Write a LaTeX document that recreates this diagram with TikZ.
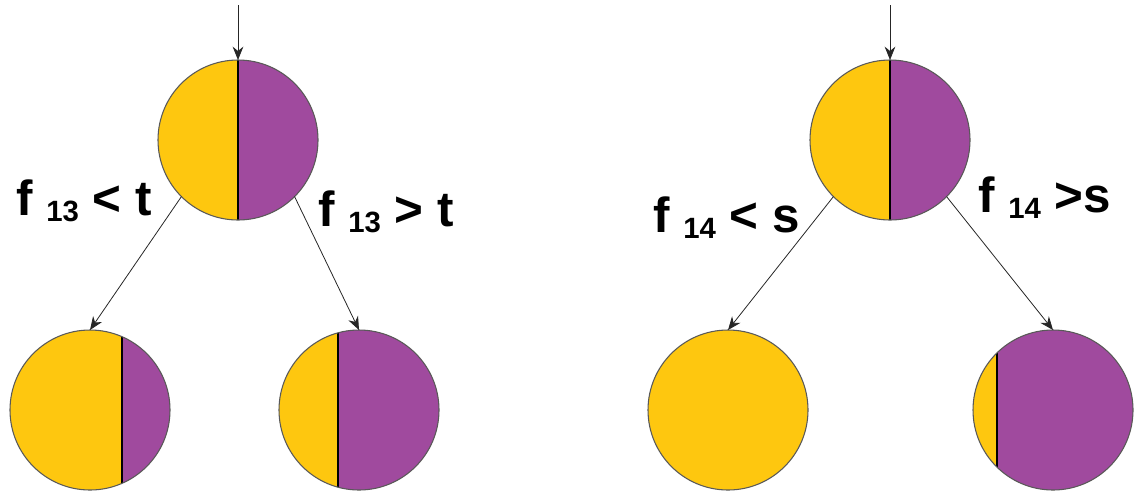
\documentclass[tikz,border=0pt]{standalone}
\usepackage{fontspec}
\setmainfont{Liberation Sans}
\usetikzlibrary{arrows.meta}
\definecolor{ylw}{RGB}{254,199,15}
\definecolor{pur}{RGB}{160,74,158}
\tikzset{
  ball/.style={circle, minimum size=120pt, inner sep=0pt, outer sep=0pt,
    draw=black!65, line width=0.8pt, fill=ylw},
  split/.style={path picture={
    \fill[pur] ([xshift=#1]path picture bounding box.north) rectangle (path picture bounding box.south east);
    \draw[black, line width=0.8pt] ([xshift=#1]path picture bounding box.north) -- ([xshift=#1]path picture bounding box.south);}},
  conn/.style={draw=black!85, line width=0.6pt, -{Stealth[length=10pt,width=8pt]}},
  lab/.style={anchor=base west, inner sep=0pt, font=\bfseries\fontsize{37}{37}\selectfont},
}
\newcommand{\sbx}[1]{\raisebox{-4.5pt}{\fontsize{22}{22}\selectfont #1}}
\begin{document}
\begin{tikzpicture}[x=0.75pt,y=-0.75pt]
\useasboundingbox (0,0) rectangle (1134,494);
% left tree
\coordinate (inA) at (238,5);
\node[ball, split=0pt] (rA) at (238,140) {};
\node[ball, split=24pt] (lA) at (90,410) {};
\node[ball, split=-15.75pt] (rrA) at (359,410) {};
\draw[conn] (inA) -- (rA.north);
\draw[conn] (rA.-135) -- (lA.north);
\draw[conn] (rA.-45) -- (rrA.north);
\node[lab] (tA1) at (16,215) {f \sbx{13} < t};
\node[lab] (tA2) at (318,226) {f \sbx{13} > t};
% right tree
\coordinate (inB) at (890,5);
\node[ball, split=0pt] (rB) at (890,140) {};
\node[ball] (lB) at (728,410) {};
\node[ball, split=-42pt] (rrB) at (1053,410) {};
\draw[conn] (inB) -- (rB.north);
\draw[conn] (rB.-135) -- (lB.north);
\draw[conn] (rB.-45) -- (rrB.north);
\node[lab] (tB1) at (653,232) {f \sbx{14} < s};
\node[lab] (tB2) at (978,212) {f \sbx{14} >s};
\end{tikzpicture}
\end{document}
